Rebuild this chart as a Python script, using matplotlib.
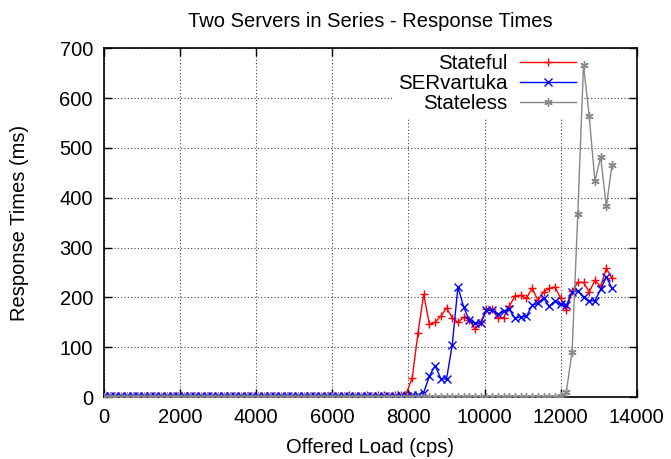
import numpy as np
import matplotlib
matplotlib.use("Agg")
import matplotlib.pyplot as plt

plt.rcParams["font.family"] = ["Liberation Sans", "DejaVu Sans"]

# Offered load (cps), one sample every 150 cps
load_cps = list(range(0, 13351, 150))

stateful_ms = [
    1, 2, 2, 3, 2, 2, 3, 2, 2, 3,
    2, 2, 3, 2, 3, 2, 2, 3, 2, 2,
    3, 2, 3, 2, 2, 3, 2, 3, 2, 2,
    3, 3, 2, 3, 2, 3, 3, 2, 3, 3,
    2, 3, 3, 4, 3, 3, 4, 3, 4, 4,
    3, 4, 5, 8, 39, 128, 206, 146, 150, 162,
    179, 159, 150, 160, 155, 136, 150, 176, 176, 159,
    159, 182, 203, 204, 198, 219, 194, 211, 218, 221,
    198, 174, 212, 230, 230, 211, 234, 222, 258, 238,
]
servartuka_ms = [
    2, 2, 3, 2, 2, 2, 3, 2, 2, 2,
    3, 2, 2, 2, 3, 2, 2, 3, 2, 2,
    2, 3, 2, 2, 3, 2, 2, 2, 3, 2,
    2, 3, 2, 3, 2, 2, 3, 2, 3, 2,
    3, 2, 3, 3, 2, 3, 3, 2, 3, 3,
    3, 3, 4, 3, 4, 4, 9, 42, 63, 37,
    36, 104, 221, 181, 154, 148, 148, 174, 174, 166,
    172, 176, 158, 161, 162, 184, 188, 199, 182, 193,
    186, 184, 211, 213, 200, 193, 193, 216, 241, 218,
]
stateless_ms = [
    1, 1, 1, 1, 1, 1, 1, 1, 1, 1,
    1, 1, 1, 1, 1, 1, 1, 1, 1, 1,
    1, 1, 1, 1, 1, 1, 1, 1, 1, 1,
    1, 1, 1, 1, 1, 1, 1, 1, 1, 1,
    1, 1, 1, 1, 1, 1, 1, 1, 1, 1,
    1, 1, 1, 1, 1, 1, 1, 1, 1, 1,
    1, 1, 1, 1, 1, 1, 1, 1, 1, 1,
    1, 1, 1, 1, 1, 1, 1, 1, 1, 1,
    2, 11, 91, 367, 666, 564, 433, 482, 383, 466,
]

series = [
    ("Stateful", stateful_ms, "#ff0000", "+"),
    ("SERvartuka", servartuka_ms, "#0000ff", "x"),
    ("Stateless", stateless_ms, "#888888", (6, 2, 0)),
]

fig = plt.figure(figsize=(6.71, 4.59), dpi=100)
ax = fig.add_axes([0.155, 0.135, 0.794, 0.76])

for name, vals, color, marker in series:
    ax.plot(load_cps, vals, color=color, marker=marker, markersize=6,
            markeredgewidth=1.0, linewidth=1.0, label=name, zorder=3)

ax.set_xlim(0, 14000)
ax.set_ylim(0, 700)
ax.set_xticks(range(0, 14001, 2000))
ax.set_yticks(range(0, 701, 100))
ax.tick_params(direction="in", top=True, right=True, length=6, width=1,
               labelsize=14.5, pad=8)
for s in ax.spines.values():
    s.set_linewidth(1.2)
ax.grid(True, color="0.25", linestyle=(0, (1, 2)), linewidth=0.8, zorder=0)
ax.set_axisbelow(True)

ax.set_title("Two Servers in Series - Response Times", fontsize=14.5, pad=15)
ax.set_xlabel("Offered Load (cps)", fontsize=14.5, labelpad=8)
ax.set_ylabel("Response Times (ms)", fontsize=14.5, labelpad=22)

leg = ax.legend(loc="upper right", bbox_to_anchor=(0.916, 1.03), markerfirst=False,
                frameon=True, fancybox=False, framealpha=1.0, edgecolor="none",
                facecolor="white", fontsize=14.8, handlelength=2.7,
                handletextpad=0.6, labelspacing=0.05, borderpad=0.3)
leg.set_zorder(2)
for t in leg.get_texts():
    t.set_ha("right")

fig.savefig("out.png", dpi=100)
plt.close(fig)
